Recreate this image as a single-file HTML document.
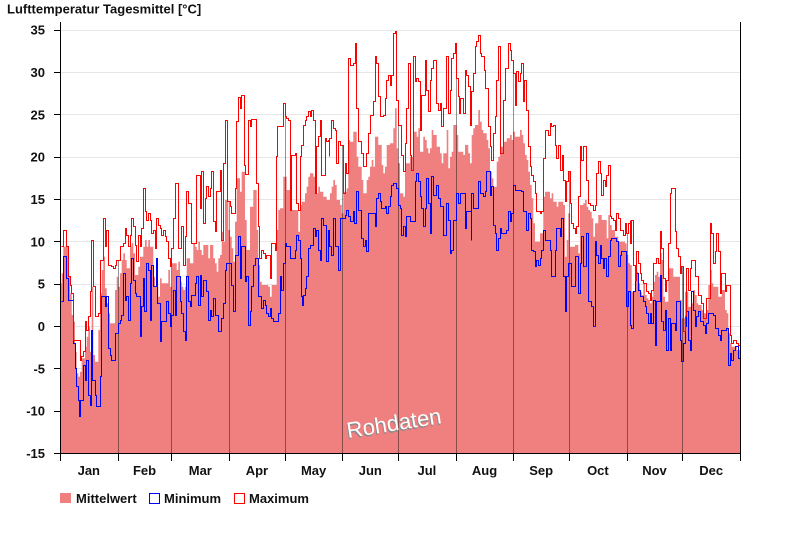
<!DOCTYPE html>
<html>
<head>
<meta charset="utf-8">
<style>
html,body{margin:0;padding:0;background:#fff;}
svg{display:block;}
text{font-family:"Liberation Sans",Arial,sans-serif;}
</style>
</head>
<body>
<svg id="c" width="800" height="550" viewBox="0 0 800 550" xmlns="http://www.w3.org/2000/svg">
<rect x="0" y="0" width="800" height="550" fill="#fff"/>
<g id="grid" stroke="#e6e6e6" stroke-width="1"></g>
<path id="fill" fill="#f08080" stroke="none"/>
<g id="seps" stroke="rgba(0,0,0,0.42)" stroke-width="1" shape-rendering="crispEdges"></g>
<path id="minl" fill="none" stroke="#0000ff" stroke-width="1" shape-rendering="crispEdges"/>
<path id="maxl" fill="none" stroke="#ff0000" stroke-width="1" shape-rendering="crispEdges"/>
<g id="axes" stroke="#000" stroke-width="1" shape-rendering="crispEdges">
<line x1="60.5" y1="22" x2="60.5" y2="453.5"/>
<line x1="740.5" y1="22" x2="740.5" y2="453.5"/>
<line x1="60" y1="453.5" x2="741" y2="453.5"/>
</g>
<g id="ylab" font-size="13" font-weight="bold" fill="#111" text-anchor="end"></g>
<g id="xlab" font-size="13" font-weight="bold" fill="#111" text-anchor="middle"></g>
<g id="ticks" stroke="#000" stroke-width="1" shape-rendering="crispEdges"></g>
<text x="7" y="13.5" font-size="13" font-weight="bold" fill="#111">Lufttemperatur Tagesmittel [°C]</text>
<g transform="rotate(-9 348 438)">
<text x="347" y="439.5" font-size="22" fill="#8a8a8a">Rohdaten</text>
<text x="348" y="438" font-size="22" fill="#ffffff">Rohdaten</text>
</g>
<rect x="60" y="493" width="11" height="10" fill="#f08080"/>
<rect x="149.5" y="493.5" width="10" height="10" fill="none" stroke="#0000ff" stroke-width="1"/>
<rect x="234.5" y="493.5" width="10" height="10" fill="none" stroke="#ff0000" stroke-width="1"/>
<g font-size="13" font-weight="bold" fill="#111">
<text x="76" y="503">Mittelwert</text>
<text x="164" y="503">Minimum</text>
<text x="249" y="503">Maximum</text>
</g>
</svg>
<script>
(function(){
var NS="http://www.w3.org/2000/svg";
function conv(ox,oy,arr,maxZx){var out=[];for(var i=0;i<arr.length;i+=2){if(maxZx!==undefined&&arr[i]>=maxZx)break;out.push([ox+arr[i]/3,oy+arr[i+1]/3]);}return out;}
function f(v){return (Math.round(v*10)/10).toString();}
function p5(v){return (Math.round(v-0.5)+0.5).toString();}
function stepPath(p,xEnd){var d="M"+p5(p[0][0])+","+p5(p[0][1]);for(var i=1;i<p.length;i++){d+="H"+p5(p[i][0])+"V"+p5(p[i][1]);}d+="H"+p5(xEnd);return d;}
function yv(v){return 326-v*8.4667;}

// ---- MAX (red)
var r6=[0,290,10,240,20,290,25,380,30,405,35,430,40,570,60,630,65,620,70,605,75,515,80,540,85,500,90,425,95,270,100,410,105,500,115,490,120,330,130,205,135,290,140,240,145,345,155,350,160,355,165,345,170,330,180,290,190,280,195,235,200,255,205,290,210,255,215,205,220,230,225,285,230,335,235,255,240,290,245,235,250,115,255,185,260,210,265,190,270,210,275,250,280,240,285,295,290,205,295,225,300,235,305,255,310,240,315,260,320,275,325,325,330,350,335,295,340,205,345,100,355,295,365,230,370,345,375,260,380,125,385,160,395,280,410,75,420,175,425,65,430,220,435,145,440,110,445,140,450,115,455,65,460,215,465,245,470,125,480,60,485,270,490,40];
var r7=[0,560,5,580,15,505,20,305,25,232,30,265,35,225,42,435,47,462,55,300,60,320,65,298,78,490,85,620,88,715,95,690,100,700,105,715,110,705,120,775,125,670,135,690,138,410,143,320,160,250,165,290,170,295,175,300,180,410,182,570,185,405,195,400,200,550,205,570,210,410,215,375,220,315,225,300,230,290,235,275,240,290,245,270,250,300,255,380,257,520,259,380,265,350,270,300,275,465,285,355,290,365,295,360,297,410,299,355,305,300,310,325,315,330,320,430,325,365,330,375,340,520,345,430,350,460,355,115,360,135,370,130,375,70,378,265,385,365,395,400,400,440,410,400,415,340,420,285,430,245,435,110,440,130,445,230,450,290,460,285,465,235,470,180,475,165,480,195,485,165,490,40,495,35,500,240,505,315];
var r8=[0,315,5,405,10,455,15,370,20,265,25,130,30,405,35,450,40,110,45,185,50,175,55,185,60,330,65,225,75,120,80,210,85,275,90,180,95,145,100,120,110,250,115,270,120,250,125,320,130,265,140,110,145,280,150,210,155,115,160,100,165,70,170,175,175,230,177,280,180,235,190,280,195,150,200,165,205,200,210,315,215,215,220,160,225,80,230,65,235,45,240,100,245,110,250,110,252,150,255,205,265,320,270,380,275,420,280,340,285,290,290,180,295,80,300,400,310,240,315,145,325,70,330,90,335,120,340,160,345,255,350,155,355,185,360,160,365,130,370,245,372,180,380,270,385,380,390,440,395,465,400,485,405,520,410,575,420,580,425,575,430,415,435,330,445,345,450,310,455,320,460,315,465,375,470,415,475,375,480,450,488,405,490,480];
var r9=[0,275,5,215,10,185,15,280,20,340,25,355,30,370,35,350,40,260,45,110,50,150,55,110,65,210,70,280,75,285,85,300,90,285,95,190,100,155,105,190,110,255,115,210,120,230,125,195,130,165,135,320,140,325,145,330,150,360,155,310,160,325,165,360,175,375,180,340,185,370,190,340,195,330,197,400,200,330,205,465,210,510,215,425,220,460,225,490,230,510,235,520,245,545,250,550,255,570,260,540,265,460,275,445,280,460,285,365,290,415,295,505,300,545,305,510,310,400,315,250,320,235,330,365,335,415,340,440,345,490,350,470,355,665,360,620,365,475,370,540,375,475,380,450,390,500,400,555,410,580,415,625,425,565,435,340,440,370,445,460,450,425,455,370,460,425,465,550,470,490,480,545,485,525,495,675,500,700,505,690,515,700,520,705];
var red=[].concat(conv(60,150,r6,490),[[223.3,163],[225.3,120],[227.7,201.7]],conv(230,20,r7,510),conv(400,20,r8,495),conv(565,110,r9));

// ---- MIN (blue)
var b6=[0,455,10,320,20,385,25,450,40,580,45,655,50,710,55,750,58,800,62,750,70,645,75,690,80,630,85,735,90,765,95,540,98,690,105,735,110,770,120,680,125,440,135,470,138,440,145,595,150,615,155,630,165,550,175,520,180,510,185,495,190,370,195,450,200,440,205,510,210,400,215,325,220,390,225,430,230,440,240,560,245,470,250,385,253,485,258,340,265,360,270,510,275,345,280,410,290,325,293,460,300,575,305,515,320,455,325,490,330,530,333,495,340,420,345,495,350,380,360,455,365,490,370,545,375,570,380,380,385,455,390,470,395,435,405,400,410,380,415,465,420,375,425,440,430,390,440,425,445,510,450,480,455,500,460,445,465,495,475,545,485,505,490,460,495,360,500,340];
var b7=[0,730,5,795,10,875,15,705,25,650,30,775,35,680,45,785,50,770,55,915,60,875,65,800,70,735,75,715,85,830,95,865,100,840,105,855,110,880,115,890,120,865,125,895,130,905,145,880,150,770,155,810,160,730,165,670,170,680,180,715,195,690,200,645,205,660,210,715,215,830,218,855,220,825,225,805,230,770,235,685,240,675,250,625,255,650,258,630,265,690,270,720,275,595,280,615,290,725,295,630,298,680,305,705,310,595,315,680,325,750,330,595,345,585,350,570,355,590,360,605,370,575,372,610,380,515,385,570,395,655,400,680,405,660,410,695,415,580,435,620,440,535,445,520,450,545,455,565,465,560,470,580,475,560,480,530,485,495,490,490,500,505,505,555];
var b8=[0,565,5,645,10,620,15,650,20,590,30,605,45,485,50,460,55,485,60,530,65,565,70,620,75,565,80,475,85,550,90,640,95,470,100,525,110,495,115,535,120,560,130,645,140,550,145,600,150,700,155,690,160,600,170,520,175,550,180,520,195,625,200,575,213,660,215,520,220,565,235,485,240,520,250,530,255,515,260,455,270,525,275,500,280,615,285,640,290,690,295,655,300,625,305,640,320,630,325,575,330,605,335,580,340,495,345,510,365,515,370,575,380,630,385,580,390,595,395,690,400,695,405,740,410,720,415,735,420,715,425,690,430,630,435,660,450,690,455,770,465,690,470,625,480,650,485,595,490,770];
var b9=[0,605,5,500,10,460,20,530,30,440,40,550,45,460,50,380,55,470,65,370,70,575,80,590,85,650,90,395,95,435,100,460,105,405,110,445,115,475,118,445,125,500,130,440,135,390,140,385,155,395,160,470,165,435,170,425,180,425,185,590,190,545,195,645,200,655,205,545,210,490,220,540,225,560,235,575,240,590,245,610,250,640,255,610,260,640,265,570,270,705,273,575,285,495,290,635,295,660,300,600,305,720,310,625,315,720,320,640,330,660,335,575,345,690,350,755,355,700,360,650,365,605,370,690,375,720,380,545,385,600,390,650,395,620,400,605,405,635,415,645,420,670,425,640,430,610,445,615,450,655,460,675,465,690,470,660,485,655,490,765,495,730,500,750,505,720,510,710,520,745];
var blue=[].concat(conv(60,150,b6,510),conv(230,20,b7,510),conv(400,20,b8,495),conv(565,110,b9));

// ---- MEAN (fill)
var m6=[0,400,5,370,10,290,25,380,30,430,35,495,40,515,45,605,50,670,55,680,60,665,65,625,75,590,80,560,85,530,90,605,95,410,100,615,105,635,115,540,120,430,125,360,130,320,135,415,140,460,145,490,150,520,165,420,170,380,175,410,180,370,185,330,190,310,195,330,200,355,210,290,215,280,220,310,225,375,235,350,240,320,250,290,255,270,260,290,265,270,270,290,280,380,285,410,295,440,300,385,305,400,325,360,330,410,335,340,350,360,355,335,360,395,365,410,370,420,375,410,380,325,390,340,400,280,405,290,410,300,415,275,420,300,425,315,430,285,445,325,450,285,460,325,465,340,470,365,475,325,480,315,485,245,490,275,495,150,505,240];
var m7=[0,650,5,685,10,725,15,605,20,475,30,515,35,455,45,600,50,690,60,560,70,510,80,630,85,735,90,785,95,795,115,800,120,830,125,795,140,630,145,570,150,565,160,470,170,510,180,570,205,635,210,555,215,545,225,520,230,500,235,470,240,460,250,470,255,490,260,520,265,500,270,515,280,530,290,540,300,520,305,500,310,480,315,495,320,540,330,555,335,580,340,515,350,505,355,360,360,365,370,335,380,410,385,440,395,480,400,520,410,480,415,470,420,440,425,420,430,440,435,350,445,375,455,435,460,460,465,440,470,375,480,370,490,325,495,265,500,385,505,430];
var m8=[0,520,10,530,15,430,30,410,40,335,50,350,55,325,60,395,70,350,75,360,80,385,85,400,90,385,95,330,100,345,110,380,120,400,125,430,130,400,140,330,145,445,150,410,155,395,160,315,170,345,175,395,190,405,195,375,205,400,210,430,215,345,220,325,225,315,235,270,240,305,245,330,250,340,260,360,265,385,270,455,275,475,280,500,290,425,295,410,300,380,310,365,320,355,330,345,335,360,340,335,345,350,360,330,365,345,370,370,375,405,380,420,385,455,390,495,395,535,400,610,405,665,420,640,430,530,435,515,450,535,455,520,460,545,470,560,475,545,490,555];
var m9=[0,440,5,390,10,310,15,410,30,405,40,430,45,285,55,280,60,270,65,290,70,300,75,305,80,325,85,380,90,340,100,315,110,330,125,385,130,315,135,345,140,360,150,380,160,395,180,400,185,435,190,460,195,465,200,545,210,485,220,520,225,545,230,555,235,520,240,555,245,565,250,570,255,580,260,560,265,515,270,495,275,485,280,500,285,430,290,450,295,560,300,575,310,475,325,500,345,570,350,625,360,545,370,590,380,580,385,540,390,555,395,580,400,585,410,600,415,610,425,600,430,525,435,480,440,520,445,530,460,560,470,540,480,600,485,610,490,670,495,700,500,710,515,720];
var mean=[].concat(conv(60,150,m6,510),conv(230,20,m7,510),conv(400,20,m8,495),conv(565,110,m9));

red[0][0]=61;blue[0][0]=61;mean[0][0]=61;

document.getElementById("maxl").setAttribute("d",stepPath(red,740));
document.getElementById("minl").setAttribute("d",stepPath(blue,740));
var fd="M61,453V"+f(mean[0][1]);
for(var i=1;i<mean.length;i++){fd+="H"+f(mean[i][0])+"V"+f(mean[i][1]);}
fd+="H740V453Z";
document.getElementById("fill").setAttribute("d",fd);

// grid + y labels + y ticks
var grid=document.getElementById("grid"),yl=document.getElementById("ylab"),tk=document.getElementById("ticks");
for(var v=35;v>=-15;v-=5){
  var y=Math.round(yv(v))+0.5;
  if(v>-15){var l=document.createElementNS(NS,"line");l.setAttribute("x1",61);l.setAttribute("x2",740);l.setAttribute("y1",y);l.setAttribute("y2",y);grid.appendChild(l);}
  var t=document.createElementNS(NS,"text");t.setAttribute("x",45);t.setAttribute("y",f(yv(v)+5));t.textContent=String(v);yl.appendChild(t);
  var k=document.createElementNS(NS,"line");k.setAttribute("x1",54);k.setAttribute("x2",60);k.setAttribute("y1",y);k.setAttribute("y2",y);tk.appendChild(k);
}
// months
var days=[31,29,31,30,31,30,31,31,30,31,30,31],names=["Jan","Feb","Mar","Apr","May","Jun","Jul","Aug","Sep","Oct","Nov","Dec"];
var dw=680/366,cum=0,xl=document.getElementById("xlab"),seps=document.getElementById("seps");
function redAt(x){var yy=red[0][1];for(var i=0;i<red.length;i++){if(red[i][0]<=x)yy=red[i][1];else break;}return yy;}
for(var m=0;m<=12;m++){
  var x=60+cum*dw,xr=Math.round(x)+0.5;
  var k2=document.createElementNS(NS,"line");k2.setAttribute("x1",xr);k2.setAttribute("x2",xr);k2.setAttribute("y1",453);k2.setAttribute("y2",461);tk.appendChild(k2);
  if(m>0&&m<12){var s=document.createElementNS(NS,"line");s.setAttribute("x1",xr);s.setAttribute("x2",xr);s.setAttribute("y1",f(redAt(x)));s.setAttribute("y2",453);seps.appendChild(s);}
  if(m<12){var tx=document.createElementNS(NS,"text");tx.setAttribute("x",f(x+days[m]*dw/2));tx.setAttribute("y",475);tx.textContent=names[m];xl.appendChild(tx);cum+=days[m];}
}
})();
</script>
</body>
</html>
